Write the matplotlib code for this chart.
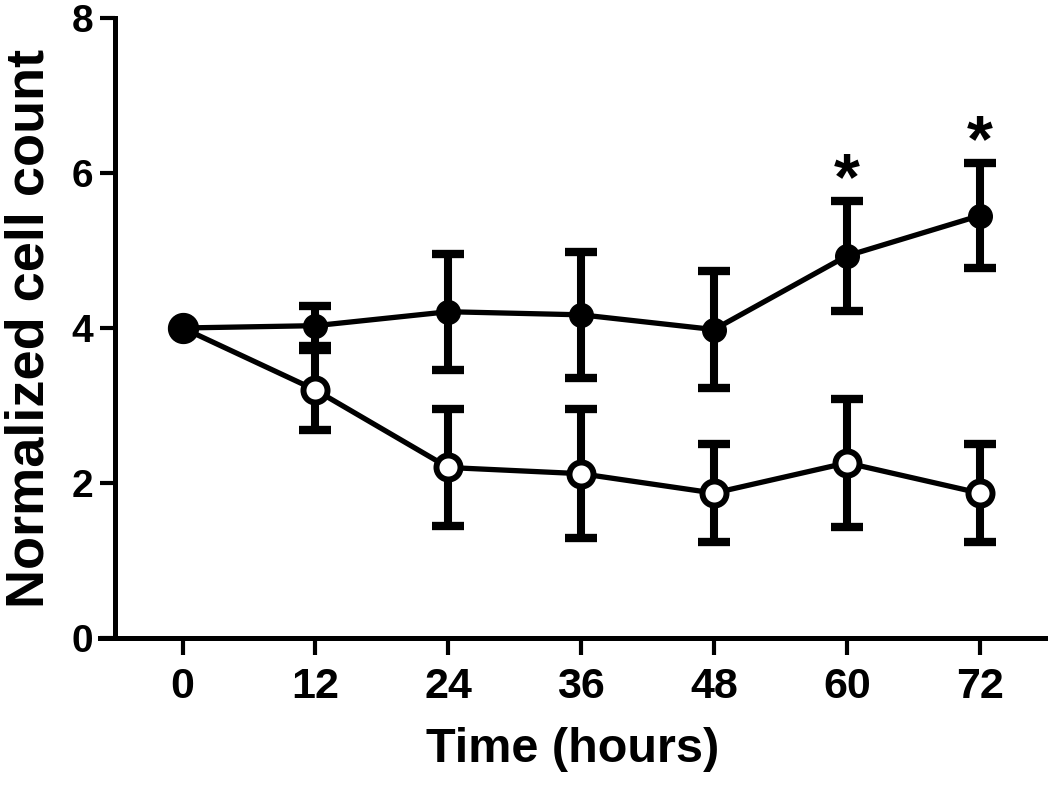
import matplotlib
matplotlib.use("Agg")
import matplotlib.pyplot as plt

# data
hours = [0, 12, 24, 36, 48, 60, 72]
filled_mean = [4.00, 4.03, 4.21, 4.17, 3.98, 4.93, 5.45]
filled_sem = [0.0, 0.26, 0.75, 0.81, 0.76, 0.71, 0.68]
open_mean = [4.00, 3.20, 2.20, 2.12, 1.87, 2.26, 1.87]
open_sem = [0.0, 0.52, 0.76, 0.83, 0.63, 0.83, 0.63]
star_hours = [60, 72]
y_ticks = [0, 2, 4, 6, 8]

plt.rcParams["font.family"] = ["Liberation Sans", "DejaVu Sans"]
plt.rcParams["font.weight"] = "bold"

fig = plt.figure(figsize=(10.5, 7.86), dpi=100)
ax = fig.add_axes([0.0952, 0.1883, 0.9000, 0.7888])

bar_kw = dict(color="black", elinewidth=5.8, capsize=11.5,
              linewidth=3.8, errorevery=(1, 1))

series = [
    (open_mean, open_sem, dict(markersize=17.3, markerfacecolor="white",
                               markeredgewidth=4.3), 3),
    (filled_mean, filled_sem, dict(markersize=17, markerfacecolor="black",
                                   markeredgewidth=1), 4),
]
for mean, sem, mk, z in series:
    _, caps, _ = ax.errorbar(hours, mean, yerr=sem, marker="o",
                             markeredgecolor="black", zorder=z, **mk, **bar_kw)
    for cap in caps:
        cap.set_markeredgewidth(6)

# shared starting point drawn as one large filled dot
ax.plot(hours[0], filled_mean[0], marker="o", markersize=21.5,
        color="black", zorder=5)

for h in star_hours:
    i = hours.index(h)
    ax.text(h, filled_mean[i] + filled_sem[i] + 0.24, "*", ha="center",
            va="center", fontsize=48, fontweight="bold")

ax.set_xlim(-7.47, 77.9)
ax.set_ylim(0, 8)
ax.set_xticks(hours)
ax.set_yticks(y_ticks)

ax.spines["top"].set_visible(False)
ax.spines["right"].set_visible(False)
ax.spines["left"].set_position(("data", -6.1))
ax.spines["left"].set_bounds(0, 8)
for side in ("left", "bottom"):
    ax.spines[side].set_linewidth(3.6)
    ax.spines[side].set_capstyle("projecting")

ax.tick_params(axis="y", direction="out", length=11, width=3, pad=5,
               labelsize=28)
ax.tick_params(axis="x", direction="out", length=12, width=3, pad=9,
               labelsize=31)
for lab in ax.get_xticklabels() + ax.get_yticklabels():
    lab.set_fontweight("bold")

ax.set_xlabel("Time (hours)", fontsize=35, fontweight="bold", labelpad=14)
ax.set_ylabel("Normalized cell count", fontsize=39, fontweight="bold",
              labelpad=12)

fig.savefig("out.png", dpi=100)
